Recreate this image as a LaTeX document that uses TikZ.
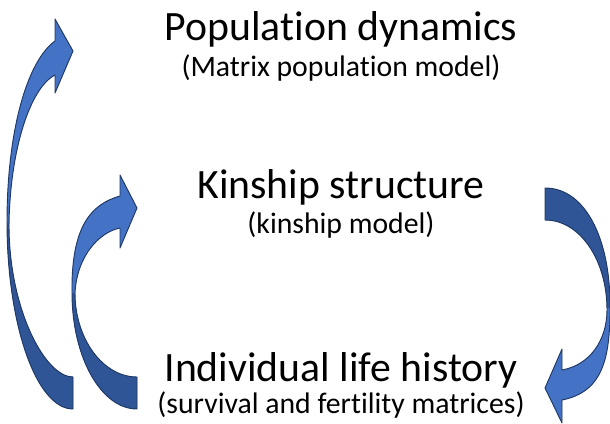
\documentclass[tikz,border=0pt]{standalone}
\usepackage{fontspec}
\setmainfont{Carlito}[Ligatures=NoCommon]
\definecolor{arrowlight}{HTML}{4472C4}
\definecolor{arrowdark}{HTML}{2F5597}
\definecolor{arrowline}{HTML}{1F3864}

% Outlines of the three curved block arrows (pixel-like units, y grows downward)
\def\leftouterarrow{(73,409) .. controls (36.5,409) and (7,325) .. (7,222)
  .. controls (7,132) and (26.6,61.6) .. (55,41)
  -- (55,19) -- (73,51) -- (55,93) -- (55,75)
  .. controls (30,88) and (10,150) .. (9,225)
  .. controls (9,309) and (45,377) .. (73,377) -- cycle}
\def\leftinnerarrow{(137,409) .. controls (101,409) and (72,357) .. (72,293)
  .. controls (71,225) and (92,204) .. (120,196)
  -- (120,175) -- (137,208) -- (120,248) -- (120,228)
  .. controls (100,232) and (77,255) .. (75,293)
  .. controls (75,339) and (103,377) .. (137,377) -- cycle}
\def\rightarrowshape{(545,188) .. controls (585,188) and (610,238) .. (610,305)
  .. controls (610.5,360) and (602,392) .. (562,400)
  -- (562,423) -- (545,388) -- (562,349) -- (562,370)
  .. controls (590,365) and (607,340) .. (607,310)
  .. controls (607,260) and (580,220) .. (545,220) -- cycle}

\begin{document}
\begin{tikzpicture}[x=0.75pt,y=-0.75pt,
  title/.style={anchor=base, inner sep=0pt, font=\fontsize{31.3}{37}\selectfont},
  subtitle/.style={anchor=base, inner sep=0pt, font=\fontsize{22.3}{27}\selectfont},
  arrowoutline/.style={draw=arrowline, line width=0.7pt, line join=round}]
\useasboundingbox (0,0) rectangle (610,424);

% outer left arrow: life history -> population dynamics
\fill[arrowlight] \leftouterarrow;
\begin{scope}
  \clip (0,223) rectangle (140,424);
  \fill[arrowdark] \leftouterarrow;
\end{scope}
\draw[arrowoutline] \leftouterarrow;

% inner left arrow: life history -> kinship structure
\fill[arrowlight] \leftinnerarrow;
\begin{scope}
  \clip (60,293) rectangle (140,424);
  \fill[arrowdark] \leftinnerarrow;
\end{scope}
\draw[arrowoutline] \leftinnerarrow;

% right arrow: kinship structure -> life history
\fill[arrowlight] \rightarrowshape;
\begin{scope}
  \clip (530,170) rectangle (615,307);
  \fill[arrowdark] \rightarrowshape;
\end{scope}
\draw[arrowoutline] \rightarrowshape;

% labels
\node[title] (pop) at (341,41) {Population dynamics};
\node[subtitle] (popsub) at (341,76.5) {(Matrix population model)};
\node[title] (kin) at (341,198) {Kinship structure};
\node[subtitle] (kinsub) at (341,233) {(kinship model)};
\node[title] (life) at (341,381) {Individual life history};
\node[subtitle] (lifesub) at (341,413.5) {(survival and fertility matrices)};
\end{tikzpicture}
\end{document}
